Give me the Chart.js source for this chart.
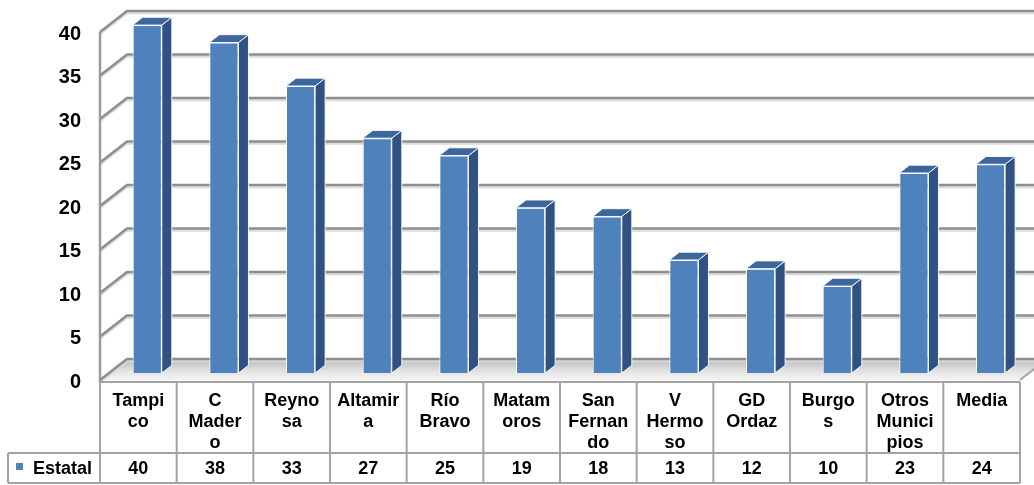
<!DOCTYPE html>
<html><head><meta charset="utf-8">
<script src="https://cdn.jsdelivr.net/npm/chart.js@4/dist/chart.umd.min.js"></script>
<style>html,body{margin:0;padding:0;background:#fff;}canvas{display:block}</style>
</head><body>
<canvas id="c" width="1034" height="485"></canvas>
<script>
// ---- data ----
const categories = [["Tampi","co"],["C","Mader","o"],["Reyno","sa"],["Altamir","a"],["Río","Bravo"],["Matam","oros"],["San","Fernan","do"],["V","Hermo","so"],["GD","Ordaz"],["Burgo","s"],["Otros","Munici","pios"],["Media"]];
const seriesName = "Estatal";
const estatal = [40,38,33,27,25,19,18,13,12,10,23,24];
const yTicks = [0,5,10,15,20,25,30,35,40];

// ---- style ----
const FONT = '"Liberation Sans", Arial, sans-serif';
const BLUE = '#4F81BD', SIDE = '#2F5283', TOP = '#3C679D';
const DEPTH = {x: 27, y: 21};
const BAR_FRONT = 0.33, BAR_BACK = 0.70;

function gridLine(ctx, pts) {
  ctx.save();
  ctx.lineCap = 'butt';
  ctx.strokeStyle = '#d9d9d9'; ctx.lineWidth = 2;
  ctx.beginPath(); pts.forEach((p,i)=> i? ctx.lineTo(p[0], p[1]+2.2) : ctx.moveTo(p[0], p[1]+2.2)); ctx.stroke();
  ctx.strokeStyle = '#8e8e8e'; ctx.lineWidth = 2.5;
  ctx.beginPath(); pts.forEach((p,i)=> i? ctx.lineTo(p[0], p[1]) : ctx.moveTo(p[0], p[1])); ctx.stroke();
  ctx.restore();
}

const threeD = {
  id: 'threeD',
  beforeDatasetsDraw(chart) {
    const {ctx, chartArea: a, scales: {y}} = chart;
    const y0 = y.getPixelForValue(0);
    // floor
    ctx.save();
    const g = ctx.createLinearGradient(0, y0 - DEPTH.y, 0, y0);
    g.addColorStop(0, '#b9b9b9'); g.addColorStop(0.6, '#e4e4e4'); g.addColorStop(1, '#f4f4f4');
    ctx.fillStyle = g;
    ctx.beginPath();
    ctx.moveTo(a.left, y0); ctx.lineTo(a.right, y0);
    ctx.lineTo(a.right + DEPTH.x, y0 - DEPTH.y); ctx.lineTo(a.left + DEPTH.x, y0 - DEPTH.y);
    ctx.closePath(); ctx.fill();
    ctx.restore();
    // gridlines on side wall and back wall
    yTicks.forEach(v => {
      const yf = y.getPixelForValue(v), yb = yf - DEPTH.y;
      gridLine(ctx, [[a.left, yf], [a.left + DEPTH.x, yb], [a.right + DEPTH.x, yb]]);
    });
    // front-left vertical edge
    ctx.save();
    ctx.strokeStyle = '#9a9a9a'; ctx.lineWidth = 2.5;
    ctx.beginPath(); ctx.moveTo(a.left, y.getPixelForValue(40)); ctx.lineTo(a.left, y0 + 2); ctx.stroke();
    ctx.strokeStyle = '#a6a6a6'; ctx.lineWidth = 2;
    ctx.beginPath(); ctx.moveTo(a.right, y0); ctx.lineTo(a.right + DEPTH.x, y0 - DEPTH.y); ctx.stroke();
    ctx.restore();
    // shift bars to their depth plane
    ctx.save();
    ctx.translate(DEPTH.x * BAR_FRONT, -DEPTH.y * BAR_FRONT);
  },
  afterDatasetsDraw(chart) {
    const ctx = chart.ctx;
    const meta = chart.getDatasetMeta(0);
    const dx = DEPTH.x * (BAR_BACK - BAR_FRONT), dy = DEPTH.y * (BAR_BACK - BAR_FRONT);
    meta.data.forEach(bar => {
      const {x: cx, y: top, base, width} = bar.getProps(['x','y','base','width'], true);
      const l = cx - width/2, r = cx + width/2;
      ctx.lineWidth = 1; ctx.strokeStyle = 'rgba(255,255,255,0.9)';
      ctx.beginPath();
      ctx.moveTo(r, top); ctx.lineTo(r + dx, top - dy); ctx.lineTo(r + dx, base - dy); ctx.lineTo(r, base);
      ctx.closePath(); ctx.fillStyle = SIDE; ctx.fill(); ctx.stroke();
      ctx.beginPath();
      ctx.moveTo(l, top); ctx.lineTo(r, top); ctx.lineTo(r + dx, top - dy); ctx.lineTo(l + dx, top - dy);
      ctx.closePath(); ctx.fillStyle = TOP; ctx.fill(); ctx.stroke();
    });
    ctx.restore();
  },
  afterDraw(chart) {
    const {ctx, chartArea: a, scales: {x}} = chart;
    const colW = x.getPixelForValue(1) - x.getPixelForValue(0);
    const tableTop = a.bottom + 2, headBottom = tableTop + 71, rowBottom = headBottom + 30;
    const legendLeft = 8;
    ctx.save();
    ctx.strokeStyle = '#a3a3a3'; ctx.lineWidth = 2;
    ctx.beginPath();
    ctx.moveTo(a.left, tableTop); ctx.lineTo(a.right, tableTop);
    ctx.moveTo(legendLeft, headBottom); ctx.lineTo(a.right, headBottom);
    ctx.moveTo(legendLeft, rowBottom); ctx.lineTo(a.right, rowBottom);
    ctx.moveTo(legendLeft, headBottom); ctx.lineTo(legendLeft, rowBottom);
    for (let i = 0; i <= categories.length; i++) {
      const bx = x.getPixelForValue(i) - colW/2;
      ctx.moveTo(bx, tableTop); ctx.lineTo(bx, rowBottom);
    }
    ctx.stroke();
    ctx.fillStyle = '#000';
    ctx.font = 'bold 18px ' + FONT;
    ctx.textAlign = 'center'; ctx.textBaseline = 'alphabetic';
    categories.forEach((lines, i) => {
      const cx = x.getPixelForValue(i);
      lines.forEach((t, k) => ctx.fillText(t, cx, tableTop + 24 + k * 21));
      ctx.fillText(String(estatal[i]), cx, rowBottom - 9);
    });
    // legend cell
    ctx.fillStyle = BLUE;
    ctx.fillRect(legendLeft + 8, headBottom + 10, 7, 7);
    ctx.fillStyle = '#000'; ctx.textAlign = 'left';
    ctx.fillText(seriesName, legendLeft + 25, rowBottom - 9);
    ctx.restore();
  }
};

new Chart(document.getElementById('c'), {
  type: 'bar',
  data: {
    labels: categories,
    datasets: [{
      label: seriesName,
      data: estatal,
      backgroundColor: BLUE,
      borderColor: 'rgba(255,255,255,0.9)',
      borderWidth: 1,
      barPercentage: 0.38,
      categoryPercentage: 1,
      clip: false
    }]
  },
  options: {
    responsive: false,
    animation: false,
    events: [],
    layout: {padding: {top: 32, right: 14, left: 0, bottom: 0}},
    plugins: {legend: {display: false}, tooltip: {enabled: false}},
    scales: {
      x: {
        grid: {display: false}, border: {display: false},
        ticks: {display: false},
        afterFit(s) { s.height = 105; }
      },
      y: {
        min: 0, max: 40,
        grid: {display: false, drawTicks: false}, border: {display: false},
        afterBuildTicks(s) { s.ticks = yTicks.map(v => ({value: v})); },
        ticks: {color: '#000', font: {family: FONT, size: 20, weight: 'bold'}, padding: 19, labelOffset: 2},
        afterFit(s) { s.width = 100; }
      }
    }
  },
  plugins: [threeD]
});
</script>
</body></html>
